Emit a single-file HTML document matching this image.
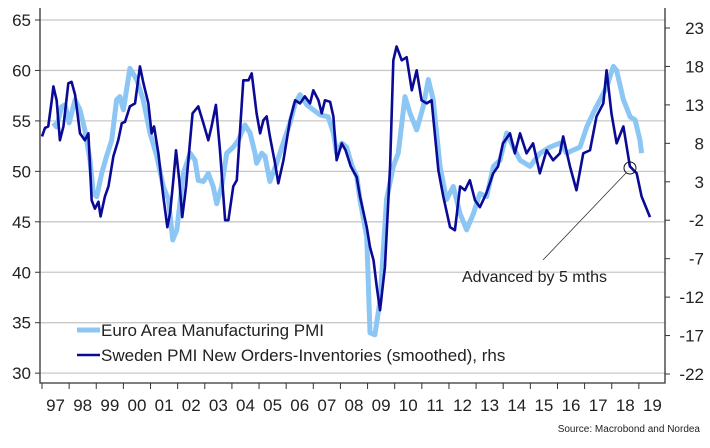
<!DOCTYPE html>
<html><head><meta charset="utf-8"><style>
body{margin:0;background:#fff;}
svg{display:block;font-family:"Liberation Sans",sans-serif;}
</style></head><body>
<svg id="chart" width="710" height="448" viewBox="0 0 710 448"></svg>
<script>
const euroYears=[1997.42,1997.54,1997.72,1997.85,1998.0,1998.22,1998.4,1998.58,1998.77,1998.89,1999.02,1999.2,1999.38,1999.57,1999.75,1999.87,2000.0,2000.24,2000.49,2000.73,2000.98,2001.23,2001.47,2001.66,2001.82,2001.97,2002.21,2002.46,2002.64,2002.76,2002.95,2003.13,2003.31,2003.44,2003.62,2003.81,2004.05,2004.24,2004.48,2004.67,2004.85,2004.91,2005.1,2005.22,2005.4,2005.65,2005.89,2006.14,2006.33,2006.51,2006.76,2007.0,2007.25,2007.55,2007.74,2007.86,2008.05,2008.23,2008.42,2008.6,2008.72,2008.97,2009.09,2009.27,2009.46,2009.7,2009.95,2010.13,2010.38,2010.56,2010.81,2011.05,2011.24,2011.42,2011.67,2011.91,2012.16,2012.41,2012.65,2012.9,2013.14,2013.39,2013.64,2013.88,2014.13,2014.37,2014.62,2014.99,2015.36,2015.72,2016.09,2016.34,2016.58,2016.83,2017.08,2017.32,2017.57,2017.82,2018.06,2018.18,2018.43,2018.68,2018.86,2019.04,2019.1];
const euroValues=[54.8,54.4,56.4,56.6,54.8,57.1,56.1,54.1,51.1,47.8,47.5,49.8,51.5,53.1,57.1,57.4,56.1,60.2,59.1,57.1,53.8,51.5,48.5,47.2,43.2,44.2,49.8,51.8,51.1,49.1,49.0,49.8,48.5,46.8,48.5,51.8,52.4,53.1,54.6,53.8,51.8,50.8,51.8,51.5,49.0,50.8,52.8,54.8,56.7,57.6,56.6,56.1,55.6,55.4,53.8,51.8,52.8,52.4,50.6,49.5,47.2,43.5,34.0,33.8,37.2,47.2,50.5,51.8,57.4,55.8,54.1,56.4,59.1,57.1,50.5,47.2,48.5,45.8,44.2,45.8,47.8,47.5,50.5,51.1,53.8,52.4,51.1,50.5,51.8,52.4,52.8,51.8,52.1,52.4,54.4,55.8,57.1,58.4,60.4,60.0,57.1,55.4,55.1,53.1,51.8];
const swedenYears=[1997.0,1997.11,1997.23,1997.36,1997.42,1997.54,1997.66,1997.79,1997.97,1998.09,1998.22,1998.4,1998.58,1998.71,1998.83,1998.95,1999.08,1999.16,1999.32,1999.45,1999.63,1999.81,1999.94,2000.06,2000.24,2000.43,2000.61,2000.74,2000.92,2001.04,2001.13,2001.29,2001.47,2001.62,2001.72,2001.84,2001.94,2002.06,2002.17,2002.31,2002.46,2002.55,2002.76,2002.95,2003.13,2003.25,2003.41,2003.56,2003.75,2003.87,2004.05,2004.18,2004.42,2004.61,2004.73,2004.91,2005.04,2005.16,2005.28,2005.4,2005.59,2005.71,2005.9,2006.14,2006.33,2006.51,2006.69,2006.88,2007.0,2007.19,2007.31,2007.43,2007.62,2007.74,2007.86,2008.05,2008.19,2008.38,2008.6,2008.72,2008.97,2009.09,2009.22,2009.34,2009.46,2009.64,2009.83,2009.95,2010.07,2010.26,2010.44,2010.63,2010.81,2010.99,2011.18,2011.36,2011.61,2011.79,2012.04,2012.22,2012.41,2012.59,2012.77,2012.96,2013.14,2013.38,2013.63,2013.81,2013.99,2014.25,2014.43,2014.62,2014.86,2015.1,2015.35,2015.6,2015.84,2016.09,2016.21,2016.46,2016.7,2016.95,2017.2,2017.44,2017.69,2017.81,2017.99,2018.18,2018.43,2018.67,2018.92,2019.1,2019.41];
const swedenValues=[8.9,10.0,10.2,13.6,15.4,13.6,8.4,10.2,15.8,16.0,14.3,9.3,8.4,9.3,0.6,-0.5,0.4,-1.5,1.1,2.4,6.3,8.4,10.6,10.8,12.8,13.2,18.0,15.8,13.2,9.3,10.2,6.7,1.1,-2.9,-1.1,3.2,7.1,3.2,-1.6,2.4,8.4,11.9,12.8,10.6,8.4,10.2,13.0,7.1,-2.0,-2.0,2.4,3.2,16.2,16.2,17.1,11.9,9.3,11.0,11.5,8.9,5.4,2.8,5.8,11.0,13.6,13.2,14.1,13.2,14.9,13.6,11.9,13.6,13.4,11.5,5.8,8.0,7.1,5.0,3.6,1.1,-2.9,-5.5,-7.2,-10.7,-13.7,-8.1,5.0,18.8,20.6,18.8,19.2,14.9,17.5,13.6,13.2,13.6,4.5,1.1,-2.9,-3.3,2.4,1.9,3.2,0.6,-0.3,1.5,4.1,5.0,8.0,9.3,6.7,9.3,6.7,8.0,4.1,7.1,5.8,6.7,8.9,5.0,1.9,6.7,7.1,11.5,13.2,17.5,11.9,8.0,10.2,5.0,4.1,1.1,-1.6];
const leftTicks=[30,35,40,45,50,55,60,65];
const rightTicks=[-22,-17,-12,-7,-2,3,8,13,18,23];
const yearLabels=["97","98","99","00","01","02","03","04","05","06","07","08","09","10","11","12","13","14","15","16","17","18","19"];

const NS="http://www.w3.org/2000/svg";
const svg=document.getElementById('chart');
const X0=40,X1=665,YB=383;
function xS(yr){return 42+(yr-1997)*27.13;}
function yL(v){return 20+(65-v)*10.09;}
function yR(v){return 28+(23-v)*(346/45);}
function mk(tag,attrs,parent){const e=document.createElementNS(NS,tag);for(const k in attrs)e.setAttribute(k,attrs[k]);(parent||svg).appendChild(e);return e;}

leftTicks.forEach(v=>{
  const g=mk('line',{x1:X0,x2:X1,y1:yL(v),y2:yL(v),stroke:'#c8c8c8','stroke-width':1.3});
  
  
  const t=mk('line',{x1:X0-5,x2:X0,y1:yL(v),y2:yL(v),stroke:'#333'});
  
  
  const l=mk('text',{x:31,y:yL(v)+6,'text-anchor':'end','font-size':17,fill:'#222'});
  l.textContent=v;
  
  
});
rightTicks.forEach(v=>{
  const t=mk('line',{x1:X1,x2:X1+5,y1:yR(v),y2:yR(v),stroke:'#333'});
  
  
  const l=mk('text',{x:704,y:yR(v)+6,'text-anchor':'end','font-size':17,fill:'#222'});
  l.textContent=v;
  
  
});
yearLabels.forEach((s,i)=>{
  const t=mk('line',{x1:xS(1997+i),x2:xS(1997+i),y1:YB,y2:YB+6,stroke:'#333'});
  
  
  const l=mk('text',{x:xS(1997.5+i),y:411,'text-anchor':'middle','font-size':17,fill:'#222'});
  l.textContent=s;
  
  
});
const ax=mk('path',{d:`M${X0} 8V${YB}H${X1}V8`,fill:'none',stroke:'#333','stroke-width':1.3});



const eu=mk('polyline',{points:euroYears.map((y,i)=>xS(y)+','+yL(euroValues[i])).join(' '),fill:'none',stroke:'#8cc6f4','stroke-width':5,'stroke-linejoin':'round'});


const sw=mk('polyline',{points:swedenYears.map((y,i)=>xS(y)+','+yR(swedenValues[i])).join(' '),fill:'none',stroke:'#0a0a96','stroke-width':2.6,'stroke-linejoin':'round'});



const c=mk('circle',{cx:630,cy:168,r:6,fill:'none',stroke:'#111','stroke-width':1});


const al=mk('line',{x1:626,y1:173,x2:543,y2:260,stroke:'#333','stroke-width':0.8});


const at=mk('text',{x:462,y:282,'font-size':16,fill:'#222'});
at.textContent='Advanced by 5 mths';



[[330,'#8cc6f4',5,'Euro Area Manufacturing PMI','legend-entry-euro'],[355,'#0a0a96',2.6,'Sweden PMI New Orders-Inventories (smoothed), rhs','legend-entry-sweden']].forEach(e=>{
  const g=mk('g',{});
  
  
  mk('line',{x1:77,x2:100,y1:e[0],y2:e[0],stroke:e[1],'stroke-width':e[2]},g);
  const t=mk('text',{x:101,y:e[0]+6,'font-size':17,fill:'#222'},g);
  t.textContent=e[3];
});
const src=mk('text',{x:700,y:432,'text-anchor':'end','font-size':10,fill:'#222'});
src.textContent='Source: Macrobond and Nordea';


</script>
</body></html>
